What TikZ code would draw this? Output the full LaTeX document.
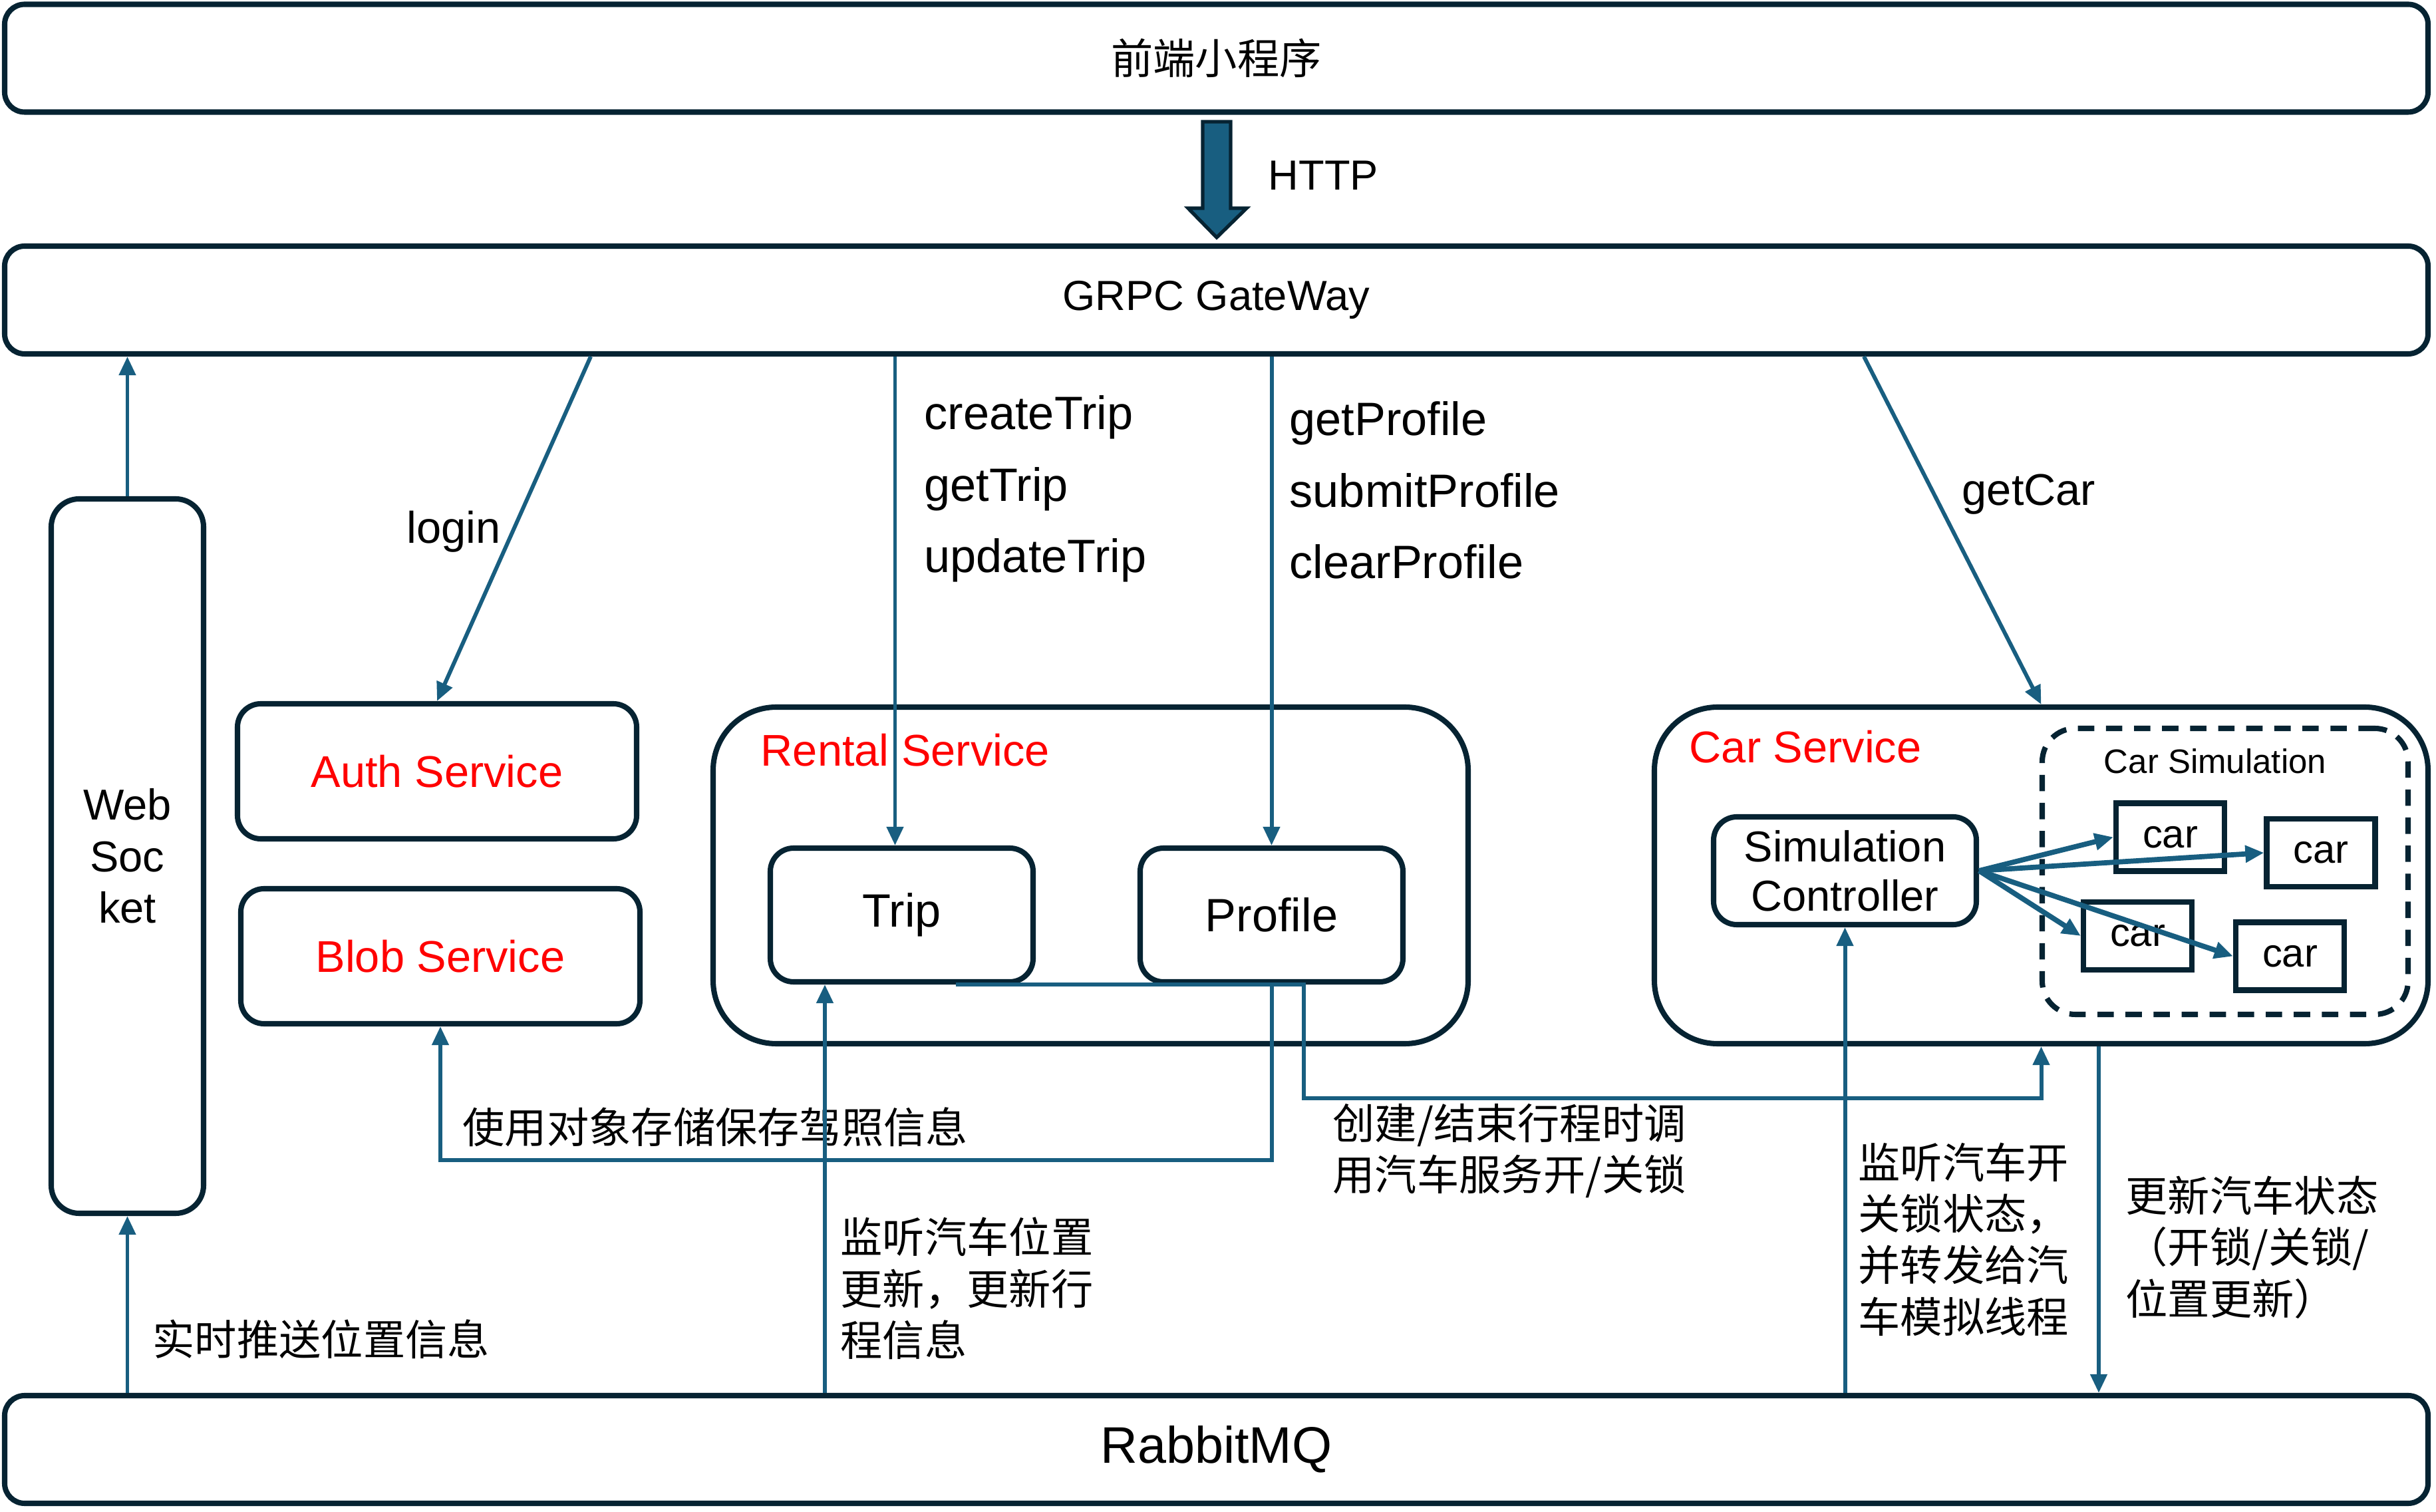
\documentclass[tikz,border=0pt]{standalone}
\usepackage{fontspec}
\setmainfont{Liberation Sans}
\newfontfamily\cjk{Noto Sans CJK SC}
\usetikzlibrary{arrows.meta}
\definecolor{navy}{RGB}{6,35,50}
\definecolor{flowblue}{RGB}{24,94,128}
\definecolor{svcred}{RGB}{255,0,0}

\begin{document}
\begin{tikzpicture}[
  bar/.style={draw=navy, line width=2.3pt, rounded corners=0.3cm, minimum width=36.43cm, minimum height=1.62cm},
  box/.style={draw=navy, line width=2.3pt, rounded corners=0.35cm, inner sep=0},
  group/.style={draw=navy, line width=2.3pt, rounded corners=0.95cm, minimum height=5.06cm},
  carbox/.style={draw=navy, line width=2.3pt, minimum width=1.63cm, minimum height=1.02cm, inner sep=0, font=\fontsize{17}{20}\selectfont},
  flow/.style={draw=flowblue, line width=1.7pt, -{Triangle[length=8pt,width=7pt]}},
  title/.style={text=svcred, anchor=west, inner sep=0, font=\fontsize{19}{22}\selectfont},
  zh/.style={font=\cjk\fontsize{18}{22}\selectfont, align=left, anchor=west, inner sep=0},
]
\useasboundingbox (0,0) rectangle (36.62,-22.73);

\node[bar, font=\cjk\fontsize{18}{22}\selectfont] (front) at (18.285,-0.875) {前端小程序};
\node[bar, font=\fontsize{18}{22}\selectfont] (gw) at (18.285,-4.51) {GRPC GateWay};
\node[bar, font=\fontsize{22}{26}\selectfont] (mq) at (18.285,-21.79) {RabbitMQ};

\draw[navy, line width=1.5pt, fill=flowblue] (18.08,-1.83) -- (18.50,-1.83) -- (18.50,-3.13) -- (18.74,-3.13) -- (18.29,-3.57) -- (17.86,-3.13) -- (18.08,-3.13) -- cycle;
\node[anchor=west, inner sep=0, font=\fontsize{18}{22}\selectfont] (http) at (19.06,-2.64) {HTTP};

\node[box, rounded corners=0.42cm, minimum width=2.29cm, minimum height=10.74cm, align=center, font=\fontsize{18.5}{22}\selectfont] (ws) at (1.915,-12.87) {Web\\Soc\\ket};

\node[box, minimum width=6cm, minimum height=2.03cm, text=svcred, font=\fontsize{19}{22}\selectfont] (auth) at (6.57,-11.595) {Auth Service};
\node[box, minimum width=6cm, minimum height=2.03cm, text=svcred, font=\fontsize{19}{22}\selectfont] (blob) at (6.62,-14.375) {Blob Service};

\node[group, minimum width=11.35cm] (rental) at (16.395,-13.16) {};
\node[title] (rentaltitle) at (11.43,-11.28) {Rental Service};
\node[box, minimum width=3.95cm, minimum height=2.01cm, font=\fontsize{20}{24}\selectfont] (trip) at (13.555,-13.755) {Trip};
\node[box, minimum width=3.95cm, minimum height=2.01cm, font=\fontsize{20}{24}\selectfont] (profile) at (19.115,-13.755) {Profile};

\node[group, minimum width=11.63cm] (carsvc) at (30.685,-13.16) {};
\node[title] (cartitle) at (25.39,-11.23) {Car Service};
\node[draw=navy, line width=2.3pt, dash pattern=on 7pt off 5pt, rounded corners=0.5cm, minimum width=5.5cm, minimum height=4.3cm] (carsim) at (33.45,-13.10) {};
\node[inner sep=0, font=\fontsize{14.5}{17}\selectfont] (simtitle) at (33.30,-11.44) {Car Simulation};
\node[box, minimum width=3.95cm, minimum height=1.62cm, align=center, font=\fontsize{18.5}{21}\selectfont] (simctl) at (27.735,-13.09) {Simulation\\Controller};
\foreach \n/\x/\y in {c1/32.625/-12.585, c2/34.89/-12.82, c3/32.135/-14.07, c4/34.425/-14.375}{
    \node[carbox] (\n) at (\x,\y) {car};
}

\node[inner sep=0, font=\fontsize{19}{22}\selectfont] (loginlbl) at (6.82,-7.99) {login};
\node[anchor=west, align=left, inner sep=0, font=\fontsize{20}{30.5}\selectfont] (tripapi) at (13.89,-7.35) {createTrip\\getTrip\\updateTrip};
\node[anchor=west, align=left, inner sep=0, font=\fontsize{20}{30.5}\selectfont] (profileapi) at (19.38,-7.37) {getProfile\\submitProfile\\clearProfile};
\node[inner sep=0, font=\fontsize{19}{22}\selectfont] (getcar) at (30.50,-7.43) {getCar};

\node[zh] (pushlbl) at (2.29,-20.13) {实时推送位置信息};
\node[zh] (bloblbl) at (6.95,-16.94) {使用对象存储保存驾照信息};
\node[zh] (poslbl) at (12.63,-19.37) {监听汽车位置\\更新，更新行\\程信息};
\node[zh] (locklbl) at (20.03,-17.30) {创建/结束行程时调\\用汽车服务开/关锁};
\node[zh] (fwdlbl) at (27.93,-18.63) {监听汽车开\\关锁状态，\\并转发给汽\\车模拟线程};
\node[zh] (statlbl) at (31.95,-18.75) {更新汽车状态\\（开锁/关锁/\\位置更新）};

\coordinate (pbrow) at (10,-17.44);
\coordinate (tcrow) at (19.60,-16.51);
\coordinate (tripin) at ([xshift=-11.55mm]trip.south);

\draw[flow] (ws.north) -- (ws.north |- gw.south);
\draw[flow] (mq.north -| ws.south) -- (ws.south);
\draw[flow] ([xshift=-94.05mm]gw.south) -- (auth.north);
\draw[flow] ([xshift=-1mm]trip.north |- gw.south) -- ([xshift=-1mm]trip.north);
\draw[flow] (profile.north |- gw.south) -- (profile.north);
\draw[flow] ([xshift=97.35mm]gw.south) -- (carsvc.north);
\draw[flow] (profile.south) |- (pbrow) -| (blob.south);
\draw[flow] ([xshift=8.1mm]trip.south) -| (tcrow) -| (carsvc.south);
\draw[flow] (mq.north -| tripin) -- (tripin);
\draw[flow] (mq.north -| simctl.south) -- (simctl.south);
\draw[flow] ([xshift=8.65mm]carsvc.south) -- ([xshift=8.65mm]carsvc.south |- mq.north);
\foreach \n in {c1,c2,c3,c4}{
    \draw[flow, line width=2.2pt] (simctl.east) -- (\n.west);
}
\end{tikzpicture}
\end{document}
